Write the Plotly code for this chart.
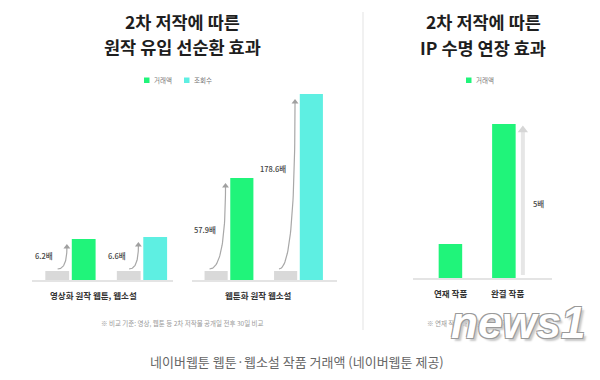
import numpy as np
import plotly.graph_objects as go

# ---------------- data ----------------
series_names = ["거래액", "조회수"]
group_names = ["영상화 원작 웹툰, 웹소설", "웹툰화 원작 웹소설"]
before_g1 = [9, 9]          # gray "before" bars (index height)
after_g1 = [41, 43]         # green / cyan "after" bars
before_g2 = [9, 9]
after_g2 = [102, 186]
multipliers_g1 = ["6.2배", "6.6배"]
multipliers_g2 = ["57.9배", "178.6배"]
right_categories = ["연재 작품", "완결 작품"]
right_values = [34, 154]
right_multiplier = "5배"

left_title = ["2차 저작에 따른", "원작 유입 선순환 효과"]
right_title = ["2차 저작에 따른", "IP 수명 연장 효과"]
left_note = "※ 비교 기준: 영상, 웹툰 등 2차 저작물 공개일 전후 30일 비교"
right_note = "※ 연재 작품 대비 완결 작품 거래액 비교"
caption = "네이버웹툰 웹툰·웹소설 작품 거래액 (네이버웹툰 제공)"

# ---------------- styling ----------------
OFF = 8                      # page body margin in the browser
W, H = 600 - OFF, 380 - OFF
GREEN = "#20F47A"
CYAN = "#5EEFE2"
GRAY = "#D9D9D9"
KR = "Noto Sans CJK KR"
after_colors = [GREEN, CYAN]


def px(x):
    return (x - OFF) / W


def py(y):
    return 1 - (y - OFF) / H


fig = go.Figure()

# bars
for xa, ya, before, after in [("x", "y", before_g1, after_g1), ("x2", "y2", before_g2, after_g2)]:
    fig.add_trace(go.Bar(x=[0, 1], y=before, marker=dict(color=GRAY, line=dict(width=0)),
                         xaxis=xa, yaxis=ya, showlegend=False, hoverinfo="skip"))
    fig.add_trace(go.Bar(x=[0, 1], y=after, marker=dict(color=after_colors, line=dict(width=0)),
                         xaxis=xa, yaxis=ya, showlegend=False, hoverinfo="skip"))

fig.add_trace(go.Bar(x=[0, 1], y=right_values, width=0.44, offset=-0.22,
                     marker=dict(color=GREEN, line=dict(width=0)),
                     xaxis="x3", yaxis="y3", showlegend=False, hoverinfo="skip"))


# curved arrows from "before" to "after"
def curve(x0, y0, x1, y1, n=40):
    t = np.linspace(0, 1, n)
    cx, cy = x1, y0
    xs = (1 - t) ** 2 * x0 + 2 * t * (1 - t) * cx + t ** 2 * x1
    ys = (1 - t) ** 2 * y0 + 2 * t * (1 - t) * cy + t ** 2 * y1
    return xs, ys


arrow_cfg = [
    ("x", "y", before_g1, after_g1, multipliers_g1, -0.18, [(-0.215, 25), (-0.20, 25)]),
    ("x2", "y2", before_g2, after_g2, multipliers_g2, -0.28, [(-0.16, 51), (-0.15, 112)]),
]
for xa, ya, before, after, mults, sdx, lpos in arrow_cfg:
    for i in range(2):
        x0, y0 = i + sdx, before[i] + 2
        x1, y1 = i - 0.05, after[i] - 9
        xs, ys = curve(x0, y0, x1, y1)
        fig.add_trace(go.Scatter(x=xs, y=ys, mode="lines", line=dict(color="#A8A8A8", width=1.2),
                                 xaxis=xa, yaxis=ya, showlegend=False, hoverinfo="skip"))
        fig.add_trace(go.Scatter(x=[x1], y=[y1 + 1], mode="markers",
                                 marker=dict(symbol="triangle-up", size=6, color="#A0A0A0"),
                                 xaxis=xa, yaxis=ya, showlegend=False, hoverinfo="skip"))
        lx, ly = lpos[i]
        fig.add_annotation(x=i + lx, y=ly, xref=xa, yref=ya, text=mults[i], showarrow=False,
                           xanchor="right", yanchor="middle",
                           font=dict(family=KR, size=7.5, color="#444444", weight=500))

# right straight arrow
ax_x = 1.355
fig.add_trace(go.Scatter(x=[ax_x, ax_x], y=[3, right_values[1] - 6], mode="lines",
                         line=dict(color="#E6E6E6", width=4),
                         xaxis="x3", yaxis="y3", showlegend=False, hoverinfo="skip"))
fig.add_trace(go.Scatter(x=[ax_x], y=[right_values[1] - 6], mode="markers",
                         marker=dict(symbol="triangle-up", size=9, color="#D6D6D6"),
                         xaxis="x3", yaxis="y3", showlegend=False, hoverinfo="skip"))
fig.add_annotation(x=1.64, y=75, xref="x3", yref="y3", text=right_multiplier, showarrow=False,
                   font=dict(family=KR, size=7.5, color="#444444", weight=500))

# axes
ax_common = dict(showgrid=False, zeroline=False, showticklabels=False, ticks="", fixedrange=True)
xline = dict(showline=True, linecolor="#E4E4E4", linewidth=1.5)
fig.update_layout(
    xaxis=dict(domain=[px(32), px(173)], range=[-0.538, 1.434], anchor="y", **ax_common, **xline),
    yaxis=dict(domain=[py(280), py(80)], range=[0, 200], anchor="x", **ax_common),
    xaxis2=dict(domain=[px(192), px(337)], range=[-0.532, 1.554], anchor="y2", **ax_common, **xline),
    yaxis2=dict(domain=[py(280), py(80)], range=[0, 200], anchor="x2", **ax_common),
    xaxis3=dict(domain=[px(413), px(552)], range=[-0.70, 1.90], anchor="y3", **ax_common, **xline),
    yaxis3=dict(domain=[py(278), py(78)], range=[0, 200], anchor="x3", **ax_common),
    barmode="group", bargap=0.26, bargroupgap=0.1,
    width=W, height=H, margin=dict(l=0, r=0, t=0, b=0),
    paper_bgcolor="white", plot_bgcolor="rgba(0,0,0,0)",
)


def paper_text(x, y, text, size, color, weight=400, xanchor="center", family=KR, **kw):
    fig.add_annotation(x=px(x), y=py(y), xref="paper", yref="paper", text=text, showarrow=False,
                       xanchor=xanchor, yanchor="middle",
                       font=dict(family=family, size=size, color=color, weight=weight, **kw))


# titles
paper_text(182, 22, left_title[0], 17.5, "#1E1E1E", 700)
paper_text(182, 46, left_title[1], 17.5, "#1E1E1E", 700)
paper_text(483, 22, right_title[0], 17.5, "#1E1E1E", 700)
paper_text(483, 47, right_title[1], 17.5, "#1E1E1E", 700)

# legends
for (sx, col, lbl) in [(144, GREEN, series_names[0]), (184, CYAN, series_names[1]), (466, GREEN, series_names[0])]:
    fig.add_shape(type="rect", xref="paper", yref="paper", x0=px(sx), x1=px(sx + 5.5),
                  y0=py(83), y1=py(77.5), fillcolor=col, line=dict(width=0))
    paper_text(sx + 8, 80.5, lbl, 6.5, "#777777", xanchor="left")

# category labels
paper_text(94, 295, group_names[0], 8.5, "#333333", 700)
paper_text(258, 295, group_names[1], 8.5, "#333333", 700)
paper_text(450, 293, right_categories[0], 8.5, "#333333", 700)
paper_text(507, 293, right_categories[1], 8.5, "#333333", 700)

# notes
paper_text(182, 323, left_note, 6.5, "#999999")
paper_text(425, 323, right_note, 6.5, "#999999", xanchor="left")

# divider
fig.add_shape(type="line", xref="paper", yref="paper", x0=px(363), x1=px(363), y0=py(12), y1=py(330),
              line=dict(color="#EDEDED", width=1.5))

# watermark
fig.add_annotation(x=px(518), y=py(322), xref="paper", yref="paper", text="<i><b>news1</b></i>",
                   showarrow=False, xanchor="center", yanchor="middle",
                   font=dict(family="Liberation Sans", size=44, color="white",
                             shadow="1px 1px 0 #9a9a9a, -1px -1px 0 #9a9a9a, 1px -1px 0 #9a9a9a, -1px 1px 0 #9a9a9a, 3px 3px 2px #c8c8c8"))

# caption
paper_text(297, 361, caption, 13, "#666666")

fig.write_html("out.html")
